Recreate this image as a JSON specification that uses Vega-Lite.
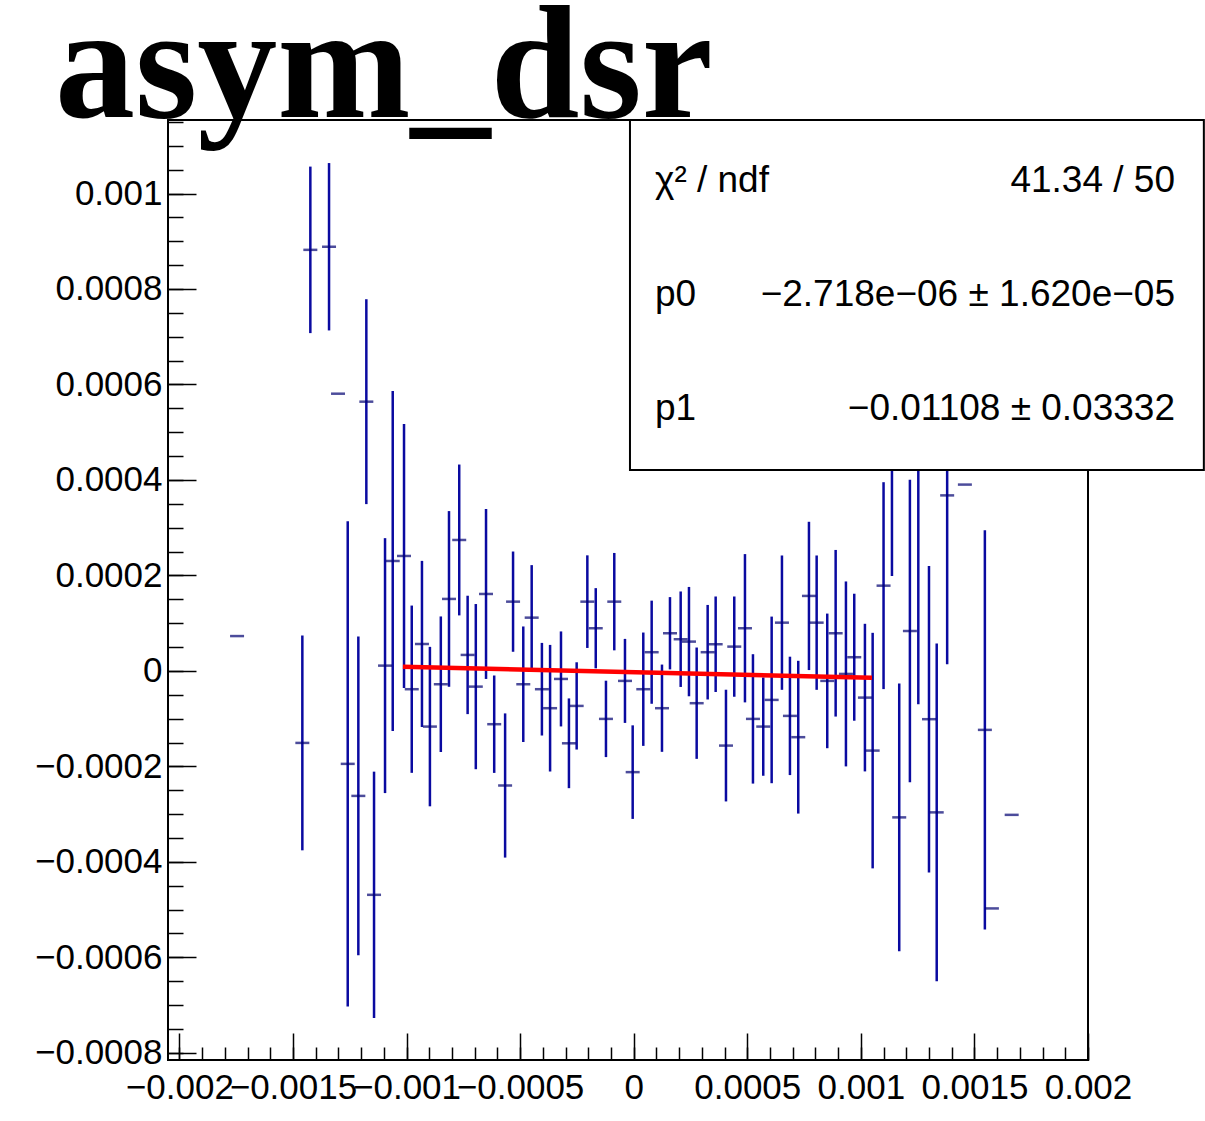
{
  "$schema": "https://vega.github.io/schema/vega-lite/v6.json",
  "autosize": {"type": "none"},
  "width": 920,
  "height": 940,
  "padding": {"left": 168, "top": 120, "right": 117, "bottom": 61},
  "background": "white",
  "config": {
    "view": {"stroke": "black", "strokeWidth": 2},
    "font": "Liberation Sans"
  },
  "title": {
    "text": "asym_dsr",
    "font": "Liberation Serif",
    "fontWeight": "bold",
    "fontSize": 160,
    "color": "black",
    "anchor": "start",
    "frame": "group",
    "baseline": "alphabetic",
    "offset": 2,
    "dx": -113,
    "dy": 160
  },
  "resolve": {"axis": {"x": "independent", "y": "independent"}},
  "datasets": {
    "pts": [
      {"x": -0.001746, "y": 0.000073, "e": 0},
      {"x": -0.0014586, "y": -0.0001508, "e": 0.000225},
      {"x": -0.0014234, "y": 0.000882, "e": 0.0001744},
      {"x": -0.0013411, "y": 0.0008885, "e": 0.0001753},
      {"x": -0.0013015, "y": 0.0005807, "e": 0},
      {"x": -0.0012588, "y": -0.0001947, "e": 0.000508},
      {"x": -0.0012121, "y": -0.0002618, "e": 0.000334},
      {"x": -0.0011769, "y": 0.000564, "e": 0.0002146},
      {"x": -0.001143, "y": -0.000469, "e": 0.000258},
      {"x": -0.0010946, "y": 0.0000111, "e": 0.000267},
      {"x": -0.0010607, "y": 0.0002303, "e": 0.000356},
      {"x": -0.001011, "y": 0.0002408, "e": 0.0002764},
      {"x": -0.000977, "y": -0.0000383, "e": 0.0001752},
      {"x": -0.000932, "y": 0.0000565, "e": 0.000174},
      {"x": -0.000897, "y": -0.0001166, "e": 0.000167},
      {"x": -0.000849, "y": -0.0000279, "e": 0.000142},
      {"x": -0.000813, "y": 0.0001508, "e": 0.000184},
      {"x": -0.000768, "y": 0.0002743, "e": 0.000158},
      {"x": -0.000731, "y": 0.0000335, "e": 0.000124},
      {"x": -0.000695, "y": -0.0000329, "e": 0.000173},
      {"x": -0.00065, "y": 0.0001612, "e": 0.000178},
      {"x": -0.000614, "y": -0.0001116, "e": 0.000102},
      {"x": -0.000566, "y": -0.00024, "e": 0.000151},
      {"x": -0.000531, "y": 0.0001451, "e": 0.000105},
      {"x": -0.000486, "y": -0.0000279, "e": 0.000121},
      {"x": -0.000449, "y": 0.0001116, "e": 0.00011},
      {"x": -0.000404, "y": -0.0000383, "e": 0.000097},
      {"x": -0.000368, "y": -0.0000781, "e": 0.0001326},
      {"x": -0.00032, "y": -0.0000168, "e": 0.0000995},
      {"x": -0.000285, "y": -0.0001516, "e": 0.000094},
      {"x": -0.000251, "y": -0.0000733, "e": 0.0000914},
      {"x": -0.000204, "y": 0.0001451, "e": 0.000097},
      {"x": -0.000167, "y": 0.0000894, "e": 0.000084},
      {"x": -0.000122, "y": -0.0001005, "e": 0.00008},
      {"x": -0.0000854, "y": 0.0001451, "e": 0.000102},
      {"x": -0.0000383, "y": -0.0000209, "e": 0.000088},
      {"x": -0.0000044, "y": -0.000212, "e": 0.000098},
      {"x": 0.0000423, "y": -0.0000383, "e": 0.0001187},
      {"x": 0.0000792, "y": 0.0000392, "e": 0.000108},
      {"x": 0.0001246, "y": -0.0000781, "e": 0.0000914},
      {"x": 0.0001598, "y": 0.0000789, "e": 0.0000757},
      {"x": 0.0002069, "y": 0.0000664, "e": 0.0001},
      {"x": 0.0002434, "y": 0.0000614, "e": 0.0001145},
      {"x": 0.0002773, "y": -0.0000676, "e": 0.0001166},
      {"x": 0.0003257, "y": 0.0000392, "e": 0.000099},
      {"x": 0.0003609, "y": 0.0000559, "e": 0.0001},
      {"x": 0.0004063, "y": -0.0001564, "e": 0.000117},
      {"x": 0.0004428, "y": 0.0000509, "e": 0.000105},
      {"x": 0.0004899, "y": 0.0000894, "e": 0.0001553},
      {"x": 0.0005251, "y": -0.0001005, "e": 0.0001355},
      {"x": 0.0005704, "y": -0.0001166, "e": 0.000103},
      {"x": 0.0006074, "y": -0.0000607, "e": 0.0001745},
      {"x": 0.0006527, "y": 0.0001011, "e": 0.0001407},
      {"x": 0.0006879, "y": -0.0000942, "e": 0.000124},
      {"x": 0.0007245, "y": -0.0001388, "e": 0.00016},
      {"x": 0.0007716, "y": 0.0001571, "e": 0.0001553},
      {"x": 0.0008055, "y": 0.0001011, "e": 0.0001407},
      {"x": 0.0008521, "y": -0.0000209, "e": 0.000141},
      {"x": 0.0008891, "y": 0.0000789, "e": 0.0001745},
      {"x": 0.0009344, "y": -0.0000063, "e": 0.0001937},
      {"x": 0.000971, "y": 0.0000287, "e": 0.000133},
      {"x": 0.001018, "y": -0.0000559, "e": 0.0001546},
      {"x": 0.001052, "y": -0.0001669, "e": 0.0002467},
      {"x": 0.0011, "y": 0.0001786, "e": 0.0002167},
      {"x": 0.001137, "y": 0.000484, "e": 0.000285},
      {"x": 0.001169, "y": -0.0003068, "e": 0.0002804},
      {"x": 0.001216, "y": 0.0000836, "e": 0.0003168},
      {"x": 0.001253, "y": 0.000473, "e": 0.000543},
      {"x": 0.0013, "y": -0.0001011, "e": 0.000321},
      {"x": 0.001334, "y": -0.0002963, "e": 0.0003535},
      {"x": 0.00138, "y": 0.0003677, "e": 0.0003537},
      {"x": 0.001458, "y": 0.0003903, "e": 0},
      {"x": 0.001546, "y": -0.0001235, "e": 0.000418},
      {"x": 0.001577, "y": -0.0004975, "e": 0},
      {"x": 0.001664, "y": -0.0003015, "e": 0}
    ],
    "fit": [
      {"x": -0.001016, "y": 0.00000854},
      {"x": 0.001049, "y": -0.00001434}
    ],
    "stats": [
      {"names": "χ² / ndf\np0\np1", "vals": "41.34 / 50\n−2.718e−06 ± 1.620e−05\n−0.01108 ± 0.03332"}
    ]
  },
  "layer": [
    {
      "data": {"name": "pts"},
      "mark": {"type": "errorbar", "color": "#0a0aa0", "thickness": 2.5},
      "encoding": {
        "x": {
          "field": "x",
          "type": "quantitative",
          "scale": {"domain": [-0.00205, 0.002], "nice": false, "zero": false},
          "axis": {
            "orient": "bottom",
            "title": null,
            "domain": false,
            "grid": false,
            "values": [-0.002, -0.0015, -0.001, -0.0005, 0, 0.0005, 0.001, 0.0015, 0.002],
            "format": "~g",
            "tickSize": -27,
            "tickColor": "black",
            "tickWidth": 1.5,
            "labelFont": "Liberation Sans",
            "labelFontSize": 35,
            "labelColor": "black",
            "labelPadding": 37,
            "labelOverlap": false,
            "labelFlush": false,
            "labelBound": false
          }
        },
        "y": {
          "field": "y",
          "type": "quantitative",
          "scale": {"domain": [-0.000815, 0.001154], "nice": false, "zero": false},
          "axis": {
            "orient": "left",
            "title": null,
            "domain": false,
            "grid": false,
            "values": [-0.0008, -0.0006, -0.0004, -0.0002, 0, 0.0002, 0.0004, 0.0006, 0.0008, 0.001],
            "format": "~g",
            "tickSize": -28,
            "tickColor": "black",
            "tickWidth": 1.5,
            "labelFont": "Liberation Sans",
            "labelFontSize": 35,
            "labelColor": "black",
            "labelPadding": 34,
            "labelOverlap": false,
            "labelFlush": false,
            "labelBound": false
          }
        },
        "yError": {"field": "e"}
      }
    },
    {
      "data": {"name": "pts"},
      "mark": {"type": "tick", "orient": "horizontal", "size": 14, "thickness": 2.5, "color": "#000070"},
      "encoding": {
        "x": {
          "field": "x",
          "type": "quantitative",
          "axis": {
            "orient": "bottom",
            "title": null,
            "domain": false,
            "grid": false,
            "labels": false,
            "values": [-0.002, -0.0019, -0.0018, -0.0017, -0.0016, -0.0015, -0.0014, -0.0013, -0.0012, -0.0011, -0.001, -0.0009, -0.0008, -0.0007, -0.0006, -0.0005, -0.0004, -0.0003, -0.0002, -0.0001, 0, 0.0001, 0.0002, 0.0003, 0.0004, 0.0005, 0.0006, 0.0007, 0.0008, 0.0009, 0.001, 0.0011, 0.0012, 0.0013, 0.0014, 0.0015, 0.0016, 0.0017, 0.0018, 0.0019, 0.002],
            "tickSize": -13,
            "tickColor": "black",
            "tickWidth": 1.5
          }
        },
        "y": {
          "field": "y",
          "type": "quantitative",
          "axis": {
            "orient": "left",
            "title": null,
            "domain": false,
            "grid": false,
            "labels": false,
            "values": [-0.0008, -0.00075, -0.0007, -0.00065, -0.0006, -0.00055, -0.0005, -0.00045, -0.0004, -0.00035, -0.0003, -0.00025, -0.0002, -0.00015, -0.0001, -0.00005, 0, 0.00005, 0.0001, 0.00015, 0.0002, 0.00025, 0.0003, 0.00035, 0.0004, 0.00045, 0.0005, 0.00055, 0.0006, 0.00065, 0.0007, 0.00075, 0.0008, 0.00085, 0.0009, 0.00095, 0.001, 0.00105, 0.0011, 0.00115],
            "tickSize": -15,
            "tickColor": "black",
            "tickWidth": 1.5
          }
        }
      }
    },
    {
      "data": {"name": "fit"},
      "mark": {"type": "line", "color": "#ff0000", "strokeWidth": 4.5},
      "encoding": {
        "x": {"field": "x", "type": "quantitative", "axis": null},
        "y": {"field": "y", "type": "quantitative", "axis": null}
      }
    },
    {
      "data": {"values": [{}]},
      "mark": {"type": "rect", "fill": "white", "stroke": "black", "strokeWidth": 2},
      "encoding": {
        "x": {"datum": -0.0000163, "type": "quantitative", "axis": null},
        "x2": {"datum": 0.00251},
        "y": {"datum": 0.001154, "type": "quantitative", "axis": null},
        "y2": {"datum": 0.000421}
      }
    },
    {
      "data": {"name": "stats"},
      "mark": {"type": "text", "align": "left", "baseline": "top", "lineBreak": "\n", "lineHeight": 114, "fontSize": 37, "font": "Liberation Sans", "color": "black"},
      "encoding": {
        "x": {"datum": 0.0000937, "type": "quantitative", "axis": null},
        "y": {"datum": 0.0010639, "type": "quantitative", "axis": null},
        "text": {"field": "names"}
      }
    },
    {
      "data": {"name": "stats"},
      "mark": {"type": "text", "align": "right", "baseline": "top", "lineBreak": "\n", "lineHeight": 114, "fontSize": 37, "font": "Liberation Sans", "color": "black"},
      "encoding": {
        "x": {"datum": 0.002383, "type": "quantitative", "axis": null},
        "y": {"datum": 0.0010639, "type": "quantitative", "axis": null},
        "text": {"field": "vals"}
      }
    }
  ]
}
